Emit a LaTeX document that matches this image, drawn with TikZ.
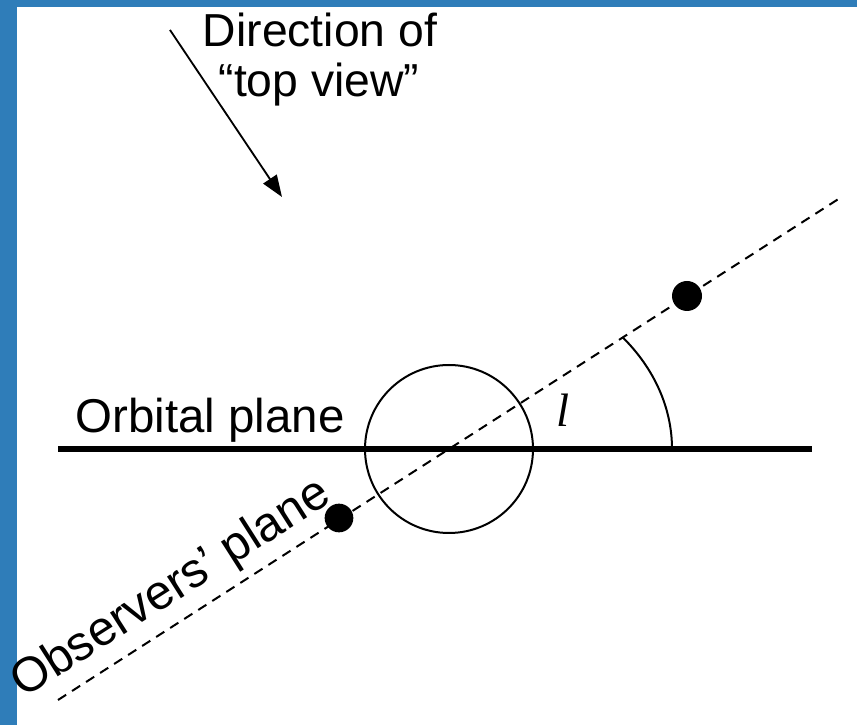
\documentclass[tikz,border=0pt]{standalone}
\usepackage{fontspec}
\setmainfont{Liberation Sans}
\newfontfamily\timesfont{Liberation Serif}
\usepackage{tikz}
\usetikzlibrary{arrows.meta}
\definecolor{fondoAzul}{HTML}{2F7DB9}

\begin{document}
\begin{tikzpicture}[
    x=0.3mm, y=0.3mm,
    txt/.style={inner sep=0pt, anchor=base, font=\fontsize{39.5}{42}\selectfont},
    plano/.style={line width=1.8mm, black},
    linea/.style={line width=0.6mm, black},
    visual/.style={line width=0.6mm, dash pattern=on 2.9mm off 2.1mm},
    punto/.style={circle, fill=black, inner sep=0pt, minimum size=9mm},
    flecha/.style={-{Triangle[length=6.5mm, width=4.8mm]}, line width=0.55mm}
]
    % fondo
    \fill[fondoAzul] (0,0) rectangle (857,725);
    \fill[white] (17,0) rectangle (857,718);
    \useasboundingbox (0,0) rectangle (857,725);

    \coordinate (centro) at (449,276);
    \coordinate (o1) at (58,276);
    \coordinate (o2) at (812,276);
    \coordinate (v1) at (58,25);
    \coordinate (v2) at (840,527);
    \coordinate (a1) at (170,695);
    \coordinate (a2) at (282,528);

    % planos
    \draw[visual] (v1) -- (v2);
    \draw[plano] (o1) -- (o2);
    \draw[linea] (centro) circle[radius=84];
    \draw[linea] (672,276) arc[start angle=0, end angle=39, x radius=223, y radius=178];

    \node[punto] (p1) at (687,429) {};
    \node[punto, minimum size=8.6mm] (p2) at (339,207) {};

    % textos
    \node[txt] (dir1) at (320,678) {Direction of};
    \node[txt] (dir2) at (319,628) {“top view”};
    \node[txt, font=\fontsize{40.5}{42}\selectfont] (orb) at (210,292) {Orbital plane};
    \node[txt, anchor=base west, rotate=32.5, font=\fontsize{41.5}{44}\selectfont] (obs) at (23,26) {Observers’ plane};
    \node[inner sep=0pt, anchor=base, font=\fontsize{40}{42}\timesfont\itshape] (ang) at (563,298) {l};

    \draw[flecha] (a1) -- (a2);
\end{tikzpicture}
\end{document}
